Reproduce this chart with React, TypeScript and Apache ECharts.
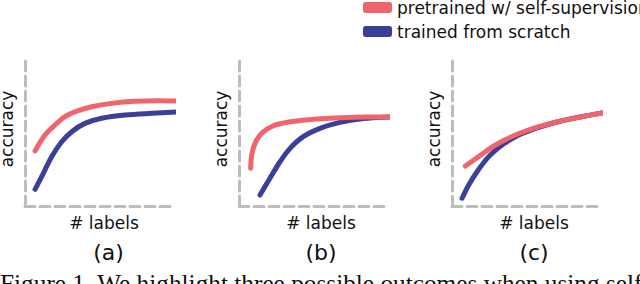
import React, { useEffect, useRef } from "react";
import * as echarts from "echarts";

const seriesNames = ["pretrained w/ self-supervision", "trained from scratch"];
const panelLabels = ["(a)", "(b)", "(c)"];
const xAxisTitle = "# labels";
const yAxisTitle = "accuracy";
const caption = "Figure 1. We highlight three possible outcomes when using self";

// [x, y] in percent of the drawn axis length
const pretrainedA = [[6.8, 37.7], [13.5, 48.6], [20.3, 55.5], [27.0, 61.2], [36.0, 65.3], [45.1, 68.0], [58.6, 70.3], [74.3, 71.7], [90.1, 72.1], [102.5, 71.9]];
const scratchA = [[6.8, 11.4], [12.4, 22.4], [18.0, 33.8], [24.8, 44.0], [31.6, 50.9], [40.5, 56.6], [51.8, 60.1], [67.6, 62.3], [85.6, 63.5], [103.6, 64.4]];
const pretrainedB = [[7.9, 25.8], [8.6, 34.9], [10.8, 42.9], [15.3, 49.8], [23.2, 55.0], [34.5, 57.7], [50.2, 59.4], [68.2, 60.5], [86.3, 61.0], [104.3, 61.0]];
const scratchB = [[14.2, 7.5], [20.9, 19.0], [27.7, 30.3], [34.5, 39.5], [43.4, 47.5], [54.7, 53.2], [68.2, 57.3], [81.8, 59.6], [95.3, 60.7], [104.3, 61.0]];
const pretrainedC = [[9.0, 27.4], [18.0, 33.8], [29.3, 41.8], [42.8, 48.6], [58.6, 54.3], [74.3, 58.4], [90.1, 61.6], [102.5, 63.9]];
const scratchC = [[6.8, 5.3], [11.3, 14.4], [16.9, 23.5], [24.8, 33.8], [33.8, 41.8], [45.1, 48.6], [58.6, 53.9], [74.3, 58.4], [90.1, 61.6], [102.5, 63.9]];

const pretrained = [pretrainedA, pretrainedB, pretrainedC];
const scratch = [scratchA, scratchB, scratchC];

const RED = "#f0646e";
const BLUE = "#3a3f98";
const AXIS_GREY = "#bdbdbd";
const FONT = "DejaVu Sans";

const gridLefts = [25, 239, 452];
const GRID_TOP = 60;
const GRID_W = 148;
const GRID_H = 146;

export default function App() {
  const ref = useRef<HTMLDivElement>(null);

  useEffect(() => {
    if (!ref.current) return;
    const chart = echarts.init(ref.current, null, { renderer: "svg" });

    const grids = gridLefts.map((left) => ({ left, top: GRID_TOP, width: GRID_W, height: GRID_H }));
    const axisLine = {
      show: true,
      lineStyle: { color: AXIS_GREY, width: 3, type: [10, 5] as any },
    };
    const makeAxis = (i: number) => ({
      type: "value" as const,
      gridIndex: i,
      min: 0,
      max: 100,
      axisLine,
      axisTick: { show: false },
      axisLabel: { show: false },
      splitLine: { show: false },
    });
    const xAxes = gridLefts.map((_, i) => makeAxis(i));
    const yAxes = gridLefts.map((_, i) => makeAxis(i));

    const series: any[] = [];
    gridLefts.forEach((_, i) => {
      series.push({
        type: "line",
        name: seriesNames[1],
        xAxisIndex: i,
        yAxisIndex: i,
        data: scratch[i],
        smooth: 0.35,
        showSymbol: false,
        clip: false,
        itemStyle: { color: BLUE },
        lineStyle: { color: BLUE, width: 5, cap: "round", join: "round" },
      });
      series.push({
        type: "line",
        name: seriesNames[0],
        xAxisIndex: i,
        yAxisIndex: i,
        data: pretrained[i],
        smooth: 0.35,
        showSymbol: false,
        clip: false,
        itemStyle: { color: RED },
        lineStyle: { color: RED, width: 5, cap: "round", join: "round" },
      });
    });

    const labelCentersX = [104, 321, 534];
    const yTitleX = [7, 221, 434];
    const panelCenters = [108.5, 321, 534];

    const graphic: any[] = [];
    gridLefts.forEach((_, i) => {
      graphic.push({
        type: "text",
        x: labelCentersX[i],
        y: 223,
        style: { text: xAxisTitle, font: `17px "${FONT}"`, fill: "#111", align: "center", verticalAlign: "middle" },
      });
      graphic.push({
        type: "text",
        x: yTitleX[i],
        y: 129,
        rotation: Math.PI / 2,
        style: { text: yAxisTitle, font: `17px "${FONT}"`, fill: "#111", align: "center", verticalAlign: "middle" },
      });
      graphic.push({
        type: "text",
        x: panelCenters[i],
        y: 252,
        style: { text: panelLabels[i], font: `22px "${FONT}"`, fill: "#111", align: "center", verticalAlign: "middle" },
      });
    });
    graphic.push({
      type: "text",
      x: 0,
      y: 270,
      style: { text: caption, font: `25.3px "Liberation Serif"`, fill: "#111", align: "left", verticalAlign: "top" },
    });

    chart.setOption({
      animation: false,
      backgroundColor: "#fff",
      legend: {
        orient: "vertical",
        left: 363,
        top: -1,
        padding: [0, 5, 0, 0],
        data: seriesNames,
        icon: "roundRect",
        itemWidth: 29,
        itemHeight: 11,
        itemGap: 7,
        textStyle: { fontFamily: FONT, fontSize: 17, color: "#111" },
      },
      grid: grids,
      xAxis: xAxes,
      yAxis: yAxes,
      series,
      graphic,
    });

    return () => chart.dispose();
  }, []);

  return (
    <div
      ref={ref}
      style={{ position: "fixed", left: 0, top: 0, width: 640, height: 284 }}
    />
  );
}
